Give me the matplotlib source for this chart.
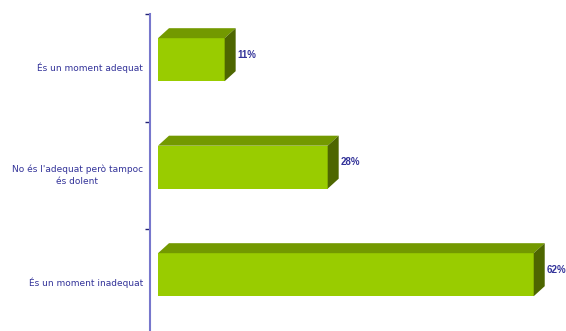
import matplotlib.pyplot as plt
from matplotlib.patches import Polygon

categories = ["És un moment adequat", "No és l'adequat però tampoc\nés dolent", "És un moment inadequat"]
values = [11, 28, 62]
value_labels = ["11%", "28%", "62%"]

front_color = '#99CC00'
top_color = '#739900'
side_color = '#4D6600'
text_color = '#333399'
axis_color = '#7777CC'

W, H = 566, 331
fig = plt.figure(figsize=(W / 100, H / 100), dpi=100)
# axes: x=0 at px 158, 6.06 px per %; y slot -0.5 at px 14, 107.5 px per slot
x0, px_per = 158, 6.06
xmax = (W - x0) / px_per
y_top, slot = 14, 107.5
ax = fig.add_axes([x0 / W, 1 - (y_top + 3 * slot) / H, (W - x0) / W, 3 * slot / H])
ax.set_xlim(0, xmax)
ax.set_ylim(2.5, -0.5)

bar_h = 0.40
off = -0.075
dx = 11 / px_per
dy = 10 / slot

for i, v in enumerate(values):
    yc = i + off
    top = yc - bar_h / 2
    bot = yc + bar_h / 2
    ax.barh(yc, v, height=bar_h, left=0, color=front_color, zorder=3)
    ax.add_patch(Polygon([(0, top), (v, top), (v + dx, top - dy), (dx, top - dy)],
                         closed=True, facecolor=top_color, edgecolor='none', zorder=3))
    ax.add_patch(Polygon([(v, top), (v + dx, top - dy), (v + dx, bot - dy), (v, bot)],
                         closed=True, facecolor=side_color, edgecolor='none', zorder=3))
    ax.text(v + dx + 0.25, (top - dy + bot) / 2, value_labels[i], ha='left', va='center',
            fontsize=7, fontweight='bold', color=text_color,
            family=['Liberation Sans', 'DejaVu Sans'])

ax.set_yticks([-0.5, 0.5, 1.5, 2.5])
ax.set_yticklabels([])
ax.tick_params(axis='y', length=3.5, width=1, color='#222277', direction='out')
ax.set_xticks([])
for i, c in enumerate(categories):
    ax.text(-2.5, i, c, ha='right', va='center', multialignment='center',
            fontsize=6.5, color=text_color, family=['DejaVu Sans'],
            linespacing=1.45)

for s in ['top', 'right', 'bottom']:
    ax.spines[s].set_visible(False)
ax.spines['left'].set_position(('outward', 5.8))
ax.spines['left'].set_color(axis_color)
ax.spines['left'].set_linewidth(1.5)

fig.savefig('out.png', dpi=100)
